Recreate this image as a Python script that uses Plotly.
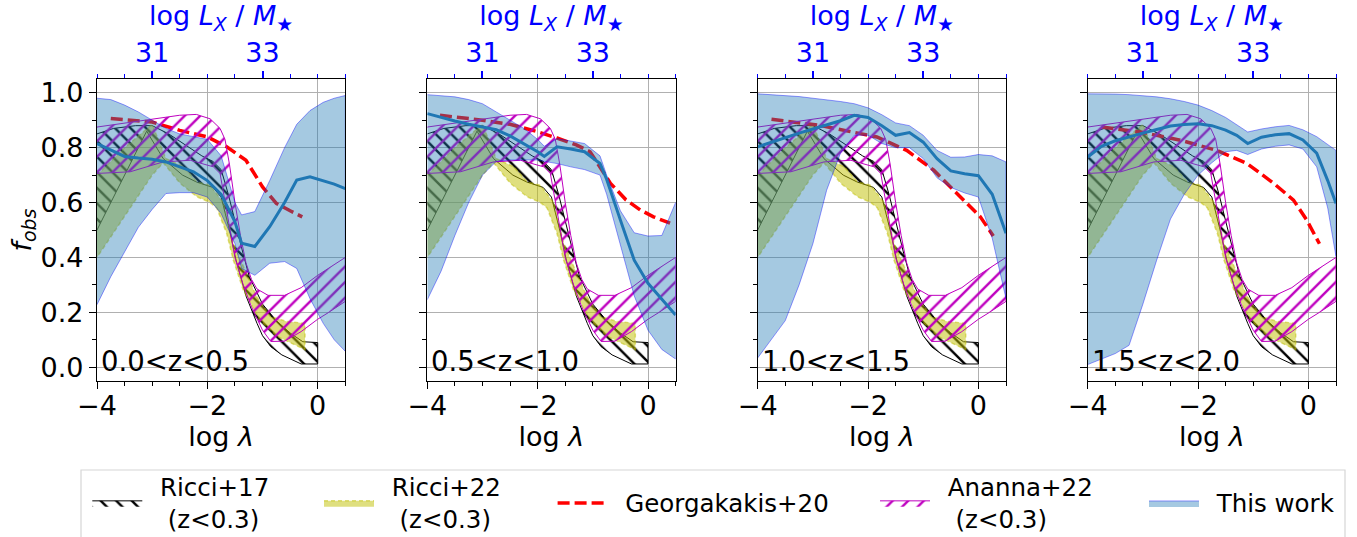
import plotly.graph_objects as go

# Figure fills the whole 1357x537 window (the page's default body margin is
# removed by a one-line post script), so pixel positions are page positions.
W, H = 1357, 537
FONT = "DejaVu Sans"

# conversion between the bottom (log lambda) and top (log L_X / M_star) axes
LX_OFFSET = 34.0

# ---------------- literature curves (z<0.3), common to all panels ----------------
# Ricci+17 (black hatched band): upper and lower edges vs log lambda
R17_UP_X = [-4.0, -3.7, -3.3, -3.0, -2.7, -2.4, -2.1, -1.9, -1.75, -1.62, -1.5, -1.36, -1.24, -1.0, -0.75, -0.5, -0.27, 0.0]
R17_UP_Y = [0.85, 0.87, 0.88, 0.88, 0.85, 0.81, 0.77, 0.75, 0.72, 0.63, 0.53, 0.42, 0.33, 0.23, 0.17, 0.125, 0.093, 0.09]
R17_LO_X = [-4.0, -3.5, -3.1, -2.8, -2.45, -2.2, -1.9, -1.75, -1.6, -1.48, -1.3, -1.1, -1.0, -0.85, -0.65, -0.3, 0.0]
R17_LO_Y = [0.50, 0.70, 0.86, 0.76, 0.70, 0.675, 0.655, 0.62, 0.50, 0.39, 0.26, 0.16, 0.115, 0.075, 0.045, 0.012, 0.012]

# Ricci+22 (yellow band)
R22_UP_X = [-4.0, -3.5, -3.0, -2.75, -2.43, -2.19, -1.95, -1.71, -1.53, -1.35, -1.11, -0.86, -0.56, -0.23]
R22_UP_Y = [0.70, 0.80, 0.885, 0.76, 0.73, 0.675, 0.663, 0.60, 0.452, 0.367, 0.258, 0.185, 0.167, 0.16]
R22_LO_X = [-4.0, -3.5, -3.0, -2.8, -2.49, -2.19, -1.95, -1.83, -1.65, -1.53, -1.35, -1.05, -0.74, -0.23]
R22_LO_Y = [0.40, 0.55, 0.70, 0.745, 0.669, 0.621, 0.60, 0.58, 0.488, 0.391, 0.282, 0.173, 0.113, 0.064]

# Ananna+22 (magenta hatched band)
A22_UP_X = [-4.0, -3.5, -3.0, -2.5, -2.2, -1.95, -1.77, -1.68, -1.6, -1.5, -1.4, -1.3, -1.2, -1.1, -0.9, -0.6, -0.3, 0.0, 0.5]
A22_UP_Y = [0.875, 0.89, 0.905, 0.918, 0.921, 0.905, 0.87, 0.83, 0.74, 0.60, 0.48, 0.38, 0.32, 0.285, 0.262, 0.262, 0.29, 0.335, 0.40]
A22_LO_X = [-4.0, -3.4, -2.8, -2.31, -1.89, -1.77, -1.71, -1.62, -1.5, -1.35, -1.2, -1.0, -0.85, -0.6, -0.3, 0.0, 0.2, 0.5]
A22_LO_Y = [0.706, 0.712, 0.748, 0.754, 0.73, 0.706, 0.64, 0.53, 0.40, 0.30, 0.22, 0.135, 0.094, 0.095, 0.13, 0.175, 0.20, 0.24]

# ---------------- Georgakakis+20 model, per redshift bin ----------------
GEO1_X = [-3.75, -3.0, -2.5, -2.0, -1.65, -1.3, -1.0, -0.75, -0.5, -0.28]
GEO1_Y = [0.906, 0.893, 0.863, 0.839, 0.803, 0.754, 0.657, 0.597, 0.57, 0.548]
GEO2_X = [-3.77, -3.0, -2.5, -2.0, -1.65, -1.3, -1.05, -0.85, -0.68, -0.4, -0.14, 0.1, 0.4]
GEO2_Y = [0.918, 0.90, 0.885, 0.858, 0.835, 0.81, 0.785, 0.725, 0.67, 0.61, 0.573, 0.548, 0.525]
GEO3_X = [-3.75, -2.87, -2.14, -1.84, -1.3, -0.81, -0.33, 0.035, 0.27]
GEO3_Y = [0.903, 0.881, 0.851, 0.839, 0.79, 0.718, 0.621, 0.548, 0.478]
GEO4_X = [-3.75, -3.05, -2.32, -1.66, -1.11, -0.63, -0.27, -0.03, 0.2]
GEO4_Y = [0.875, 0.857, 0.827, 0.79, 0.742, 0.67, 0.609, 0.536, 0.45]

# ---------------- This work: median and band, per redshift bin ----------------
TW1_X = [-4.0, -3.75, -3.5, -3.25, -3.0, -2.75, -2.5, -2.25, -2.0, -1.75, -1.5, -1.38, -1.14, -0.87, -0.6, -0.38, -0.14, 0.1, 0.3, 0.5]
TW1_MED = [0.815, 0.79, 0.768, 0.762, 0.758, 0.748, 0.73, 0.712, 0.68, 0.63, 0.53, 0.452, 0.44, 0.512, 0.60, 0.682, 0.694, 0.68, 0.667, 0.651]
TW1_HI = [0.98, 0.975, 0.955, 0.93, 0.90, 0.87, 0.85, 0.84, 0.83, 0.77, 0.60, 0.555, 0.567, 0.68, 0.80, 0.885, 0.935, 0.965, 0.98, 0.99]
TW1_LO = [0.228, 0.33, 0.42, 0.51, 0.575, 0.633, 0.636, 0.636, 0.62, 0.56, 0.45, 0.36, 0.335, 0.379, 0.385, 0.36, 0.25, 0.16, 0.10, 0.058]

TW2_X = [-4.0, -3.75, -3.5, -3.25, -3.0, -2.75, -2.5, -2.25, -2.0, -1.88, -1.65, -1.4, -1.15, -0.87, -0.75, -0.5, -0.25, 0.0, 0.25, 0.5]
TW2_MED = [0.924, 0.91, 0.897, 0.885, 0.875, 0.865, 0.843, 0.815, 0.785, 0.768, 0.803, 0.795, 0.785, 0.742, 0.685, 0.536, 0.39, 0.306, 0.25, 0.19]
TW2_HI = [0.993, 0.99, 0.985, 0.975, 0.96, 0.93, 0.90, 0.87, 0.83, 0.805, 0.833, 0.825, 0.815, 0.77, 0.70, 0.57, 0.49, 0.478, 0.48, 0.60]
TW2_LO = [0.246, 0.35, 0.48, 0.60, 0.70, 0.75, 0.755, 0.755, 0.755, 0.75, 0.742, 0.73, 0.72, 0.70, 0.63, 0.44, 0.26, 0.135, 0.065, 0.03]

TW3_X = [-4.0, -3.75, -3.5, -3.25, -3.0, -2.75, -2.5, -2.25, -2.0, -1.75, -1.5, -1.25, -1.0, -0.75, -0.5, -0.25, 0.0, 0.25, 0.5]
TW3_MED = [0.803, 0.82, 0.838, 0.853, 0.868, 0.882, 0.898, 0.918, 0.91, 0.88, 0.845, 0.855, 0.82, 0.76, 0.715, 0.705, 0.698, 0.63, 0.488]
TW3_HI = [0.996, 0.993, 0.99, 0.986, 0.98, 0.975, 0.968, 0.96, 0.945, 0.92, 0.89, 0.88, 0.845, 0.79, 0.765, 0.766, 0.775, 0.77, 0.748]
TW3_LO = [0.034, 0.10, 0.17, 0.30, 0.45, 0.645, 0.78, 0.845, 0.845, 0.815, 0.80, 0.80, 0.76, 0.69, 0.655, 0.635, 0.62, 0.47, 0.25]

TW4_X = [-4.0, -3.75, -3.5, -3.25, -3.0, -2.75, -2.5, -2.25, -2.0, -1.75, -1.5, -1.3, -1.1, -0.85, -0.6, -0.35, -0.1, 0.15, 0.35, 0.5]
TW4_MED = [0.766, 0.805, 0.825, 0.84, 0.853, 0.866, 0.879, 0.884, 0.887, 0.88, 0.864, 0.845, 0.815, 0.838, 0.847, 0.851, 0.828, 0.78, 0.68, 0.597]
TW4_HI = [0.996, 0.996, 0.995, 0.993, 0.99, 0.985, 0.978, 0.968, 0.955, 0.935, 0.91, 0.885, 0.857, 0.868, 0.876, 0.881, 0.865, 0.84, 0.81, 0.79]
TW4_LO = [0.01, 0.03, 0.05, 0.08, 0.23, 0.39, 0.54, 0.63, 0.70, 0.745, 0.785, 0.79, 0.775, 0.795, 0.805, 0.81, 0.795, 0.73, 0.58, 0.403]

Z_LABELS = ["0.0&lt;z&lt;0.5", "0.5&lt;z&lt;1.0", "1.0&lt;z&lt;1.5", "1.5&lt;z&lt;2.0"]

NB = "\u00a0"
TH = "\u2009"
LEG_R17 = NB + TH + "Ricci+17<br>" + NB + TH + NB + "(z&lt;0.3)"
LEG_R22 = NB + TH + "Ricci+22<br>" + NB + TH + NB + "(z&lt;0.3)"
LEG_GEO = NB + TH + "Georgakakis+20"
LEG_A22 = NB + TH + "Ananna+22<br>" + NB + TH + NB + "(z&lt;0.3)"
LEG_TW = NB + TH + "This work"

PANELS = [
    (TW1_X, TW1_MED, TW1_LO, TW1_HI, GEO1_X, GEO1_Y),
    (TW2_X, TW2_MED, TW2_LO, TW2_HI, GEO2_X, GEO2_Y),
    (TW3_X, TW3_MED, TW3_LO, TW3_HI, GEO3_X, GEO3_Y),
    (TW4_X, TW4_MED, TW4_LO, TW4_HI, GEO4_X, GEO4_Y),
]

# ---------------- layout geometry (page pixels) ----------------
PL = [97.0, 427.3, 757.7, 1087.7]
PW = 248.3
YB, YT = 381.0, 79.0


def fx(p):
    return p / W


def fy(p):
    return 1 - p / H


def poly(ux, uy, lx, ly):
    return list(ux) + list(lx)[::-1], list(uy) + list(ly)[::-1]


fig = go.Figure()

for i, (tx, tmed, tlo, thi, gx, gy) in enumerate(PANELS):
    sfx = "" if i == 0 else str(i + 1)
    xa, ya = "x" + sfx, "y" + sfx
    xtop = "x" + str(i + 5)
    first = i == 0

    px, py = poly(R17_UP_X, R17_UP_Y, R17_LO_X, R17_LO_Y)
    fig.add_trace(go.Scatter(
        x=px, y=py, xaxis=xa, yaxis=ya, mode="lines", fill="toself",
        fillcolor="rgba(0,0,0,0)",
        fillpattern=dict(shape="\\", fgcolor="black", size=11, solidity=0.22, fillmode="replace"),
        line=dict(color="black", width=1), name=LEG_R17, legend="legend",
        showlegend=first, hoverinfo="skip"))

    px, py = poly(R22_UP_X, R22_UP_Y, R22_LO_X, R22_LO_Y)
    fig.add_trace(go.Scatter(
        x=px, y=py, xaxis=xa, yaxis=ya, mode="lines", fill="toself",
        fillcolor="rgba(191,191,0,0.5)",
        line=dict(color="rgba(191,191,0,0.5)", width=1.5, dash="4px,3px"),
        name=LEG_R22, legend="legend2", showlegend=first, hoverinfo="skip"))

    fig.add_trace(go.Scatter(
        x=gx, y=gy, xaxis=xa, yaxis=ya, mode="lines",
        line=dict(color="red", width=3.5, dash="12px,5px"),
        name=LEG_GEO, legend="legend3", showlegend=first, hoverinfo="skip"))

    px, py = poly(A22_UP_X, A22_UP_Y, A22_LO_X, A22_LO_Y)
    fig.add_trace(go.Scatter(
        x=px, y=py, xaxis=xa, yaxis=ya, mode="lines", fill="toself",
        fillcolor="rgba(0,0,0,0)",
        fillpattern=dict(shape="/", fgcolor="#bf00bf", size=11, solidity=0.22, fillmode="replace"),
        line=dict(color="#bf00bf", width=1), name=LEG_A22, legend="legend4",
        showlegend=first, hoverinfo="skip"))

    px, py = poly(tx, thi, tx, tlo)
    fig.add_trace(go.Scatter(
        x=px, y=py, xaxis=xa, yaxis=ya, mode="lines", fill="toself",
        fillcolor="rgba(31,119,180,0.4)",
        line=dict(color="rgba(0,0,255,0.4)", width=1),
        name=LEG_TW, legend="legend5", showlegend=first, hoverinfo="skip"))

    fig.add_trace(go.Scatter(
        x=tx, y=tmed, xaxis=xa, yaxis=ya, mode="lines",
        line=dict(color="#1f77b4", width=3), showlegend=False, hoverinfo="skip"))

    # same median expressed on the top (log L_X / M_star) axis, invisible:
    # it only makes the top axis exist
    fig.add_trace(go.Scatter(
        x=[v + LX_OFFSET for v in tx], y=tmed, xaxis=xtop, yaxis=ya, mode="lines",
        line=dict(color="rgba(0,0,0,0)", width=0), opacity=0,
        showlegend=False, hoverinfo="skip"))

    dom = [fx(PL[i]), fx(PL[i] + PW)]
    ydom = [fy(YB), fy(YT)]
    tfont = dict(size=27, family=FONT, color="black")

    fig.layout["xaxis" + sfx] = dict(
        domain=dom, anchor=ya, range=[-4, 0.5], tickmode="linear", tick0=-4, dtick=2,
        ticks="outside", ticklen=7, tickwidth=1.3, tickcolor="black", ticklabelstandoff=-7,
        minor=dict(tickmode="linear", tick0=0, dtick=0.5, ticks="outside", ticklen=4,
                   tickwidth=1.1, tickcolor="black", showgrid=False),
        showgrid=True, gridcolor="#b0b0b0", gridwidth=1,
        showline=True, linecolor="black", linewidth=1.3, mirror=True, zeroline=False,
        tickfont=tfont, automargin=False,
        title=dict(text="log <i>λ</i>", font=tfont, standoff=2))

    fig.layout["yaxis" + sfx] = dict(
        domain=ydom, anchor=xa, range=[-0.05, 1.05], tickmode="linear", tick0=0, dtick=0.2,
        tickformat=".1f", ticks="outside", ticklen=7, tickwidth=1.3, tickcolor="black",
        minor=dict(tickmode="linear", tick0=0, dtick=0.1, ticks="outside", ticklen=4,
                   tickwidth=1.1, tickcolor="black", showgrid=False),
        showgrid=True, gridcolor="#b0b0b0", gridwidth=1,
        showline=True, linecolor="black", linewidth=1.3, mirror=True, zeroline=False,
        showticklabels=first, tickfont=tfont, automargin=False,
        title=dict(text="<i>f</i><sub><i>obs</i></sub>" if first else "", font=tfont, standoff=0))

    bfont = dict(size=27, family=FONT, color="blue")
    fig.layout["xaxis" + str(i + 5)] = dict(
        domain=dom, anchor=ya, overlaying=xa, side="top", range=[30, 34.5],
        tickmode="linear", tick0=31, dtick=2, ticks="outside", ticklen=7, tickwidth=1.5,
        tickcolor="blue", ticklabelstandoff=-2,
        minor=dict(tickmode="linear", tick0=30, dtick=0.5, ticks="outside", ticklen=4,
                   tickwidth=1.3, tickcolor="blue", showgrid=False),
        showgrid=False, showline=False, zeroline=False, tickfont=bfont, automargin=False,
        title=dict(text="log <i>L</i><sub><i>X</i></sub> / <i>M</i><sub>★</sub>",
                   font=bfont, standoff=5))

    fig.add_annotation(
        text=Z_LABELS[i], xref=xa + " domain", yref=ya + " domain", x=0.008, y=0.066,
        xanchor="left", yanchor="middle", showarrow=False,
        font=dict(size=27.5, family=FONT, color="black"))

# ---------------- legends ----------------
LEG_SYMBOL_LEFT = [92.3, 324.0, 557.6, 880.0, 1149.0]
for k, xs in enumerate(LEG_SYMBOL_LEFT):
    name = "legend" if k == 0 else "legend" + str(k + 1)
    fig.layout[name] = dict(
        x=fx(xs - 5), xanchor="left", y=fy(503), yanchor="middle",
        bgcolor="rgba(0,0,0,0)", borderwidth=0, itemwidth=50, valign="middle",
        font=dict(size=24.5, family=FONT, color="black"), tracegroupgap=0)

fig.add_shape(type="rect", xref="paper", yref="paper",
              x0=fx(81), x1=fx(1345), y0=fy(560), y1=fy(470),
              line=dict(color="#d6d6d6", width=1.2), fillcolor="rgba(0,0,0,0)", layer="below")

fig.update_layout(
    width=W, height=H, autosize=False, template="none",
    margin=dict(l=0, r=0, t=0, b=0, pad=0, autoexpand=False),
    paper_bgcolor="white", plot_bgcolor="rgba(0,0,0,0)",
    font=dict(family=FONT, color="black"),
)

fig.write_html("out.html", config={"displayModeBar": False},
               post_script="document.body.style.margin = '0px';")
